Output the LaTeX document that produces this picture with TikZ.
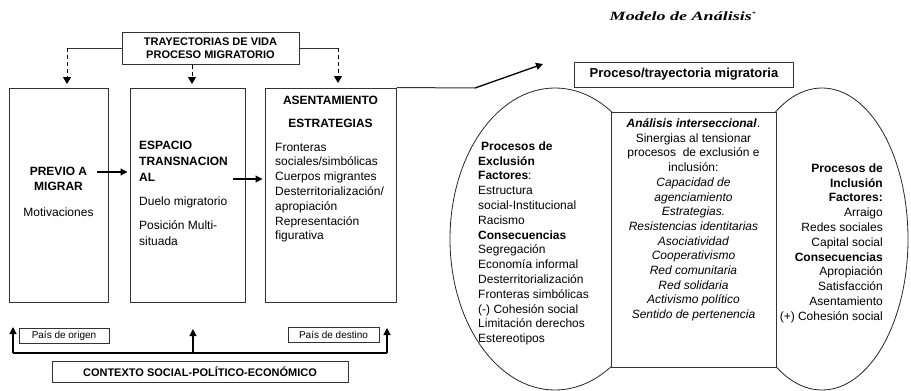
\documentclass[tikz,border=0pt]{standalone}
\usepackage{fontspec}
\setmainfont{Liberation Sans}
\newfontfamily\titlefont{Liberation Serif}
\usetikzlibrary{arrows.meta,shapes.geometric}
\begin{document}
\begin{tikzpicture}[x=1pt,y=-1pt,
  box/.style={draw=black!80, line width=1pt, inner sep=0pt},
  txt/.style={inner sep=0pt, font=\fontsize{12}{14.8}\selectfont},
  arr/.style={-{Triangle[length=7pt,width=7pt]}, line width=1.1pt, black},
  dasharr/.style={-{Triangle[length=7pt,width=8pt]}, line width=1pt, dash pattern=on 4pt off 3pt, black},
  conn/.style={line width=1pt, black!80},
  oval/.style={draw=black!85, ellipse, line width=0.8pt, inner sep=0pt}]
\useasboundingbox (0,0) rectangle (911,391);

% ---------- top box and dashed connectors
\node[box, minimum width=177pt, minimum height=32pt, align=center,
  font=\fontsize{11}{13.5}\selectfont\bfseries] (tv) at (210.5,48)
  {TRAYECTORIAS DE VIDA\\PROCESO MIGRATORIO};
\coordinate (tl) at (67,48);
\coordinate (tla) at (67,84);
\coordinate (tma) at (192,84);
\coordinate (tr) at (338,48);
\coordinate (tra) at (338,83);
\draw[conn] (tv.west) -- (tl);
\draw[dasharr] (tl) -- (tla);
\draw[dasharr] (tv.south -| tma) -- (tma);
\draw[conn] (tv.east) -- (tr);
\draw[dasharr] (tr) -- (tra);

% ---------- three stage boxes
\node[box, minimum width=99pt, minimum height=214pt] (b1) at (58.5,195) {};
\node[box, minimum width=115pt, minimum height=214pt] (b2) at (187.5,195) {};
\node[box, minimum width=131pt, minimum height=214pt] (b3) at (330.5,195) {};

\node[txt, align=center, font=\fontsize{12}{15.5}\selectfont\bfseries] (pm) at (58.5,179) {PREVIO A\\MIGRAR};
\node[txt] (mot) at (58.5,212) {Motivaciones};

\node[txt, anchor=north west, align=left, font=\fontsize{12}{16}\selectfont] (et) at (139,140.7)
  {\textbf{ESPACIO}\\\textbf{TRANSNACION}\\\textbf{AL}\\[8pt]Duelo migratorio\\[8pt]Posición Multi-\\situada};

\node[txt, font=\fontsize{12}{14}\selectfont\bfseries] (as) at (330.5,100) {ASENTAMIENTO};
\node[txt, font=\fontsize{12}{14}\selectfont\bfseries] (es) at (330.5,123) {ESTRATEGIAS};
\node[txt, anchor=north west, align=left] (fr) at (275,142.7)
  {Fronteras\\sociales/simbólicas\\Cuerpos migrantes\\Desterritorialización/\\apropiación\\Representación\\figurativa};

\coordinate (a1s) at (97,172);
\coordinate (a2s) at (233,179);
\draw[arr, shorten >=2pt] (a1s) -- (b2.west |- a1s);
\draw[arr, shorten >=2pt] (a2s) -- (b3.west |- a2s);

% ---------- bottom context
\node[box, minimum width=90pt, minimum height=15pt, font=\fontsize{10}{12}\selectfont] (po) at (64,335.5) {País de origen};
\node[box, minimum width=91pt, minimum height=15pt, font=\fontsize{10}{12}\selectfont] (pd) at (333.5,334.5) {País de destino};
\node[box, minimum width=296pt, minimum height=21pt, font=\fontsize{11}{13}\selectfont\bfseries] (ctx) at (200,371.5) {CONTEXTO SOCIAL-POLÍTICO-ECONÓMICO};
\coordinate (bl) at (13,353);
\coordinate (bm) at (193,353);
\coordinate (br) at (387,353);
\coordinate (blt) at (13,327);
\coordinate (bmt) at (193,329);
\coordinate (brt) at (387,328);
\draw[line width=1.1pt] (bl) -- (br);
\draw[arr] (bl) -- (blt);
\draw[arr] (bm) -- (bmt);
\draw[arr] (br) -- (brt);

% ---------- right side
\node[inner sep=0pt] (title) at (683,16)
  {\scalebox{1.5}[1.05]{\titlefont\fontsize{12}{14}\selectfont\bfseries\itshape Modelo de Análisis\textsuperscript{\tiny *}}};

\coordinate (ak) at (475,88);
\coordinate (at) at (543,64);
\draw[conn] (b3.north east) -- (ak);
\draw[arr, line width=1.3pt] (ak) -- (at);

\node[box, minimum width=219pt, minimum height=25pt, font=\fontsize{13}{15}\selectfont\bfseries] (ptm) at (684,74.5) {Proceso/trayectoria migratoria};

\node[oval, minimum width=210pt, minimum height=302pt] (exc) at (555,239) {};
\node[oval, minimum width=172pt, minimum height=302pt] (inc) at (822,239) {};
\node[box, fill=white, minimum width=165pt, minimum height=255pt] (ai) at (693.5,239.5) {};

\node[txt, anchor=north west, align=left, font=\fontsize{12}{14.8}\selectfont] (ex) at (478,141.5)
  {\hspace{3pt}\textbf{Procesos de}\\\textbf{Exclusión}\\\textbf{Factores}:\\Estructura\\social-Institucional\\Racismo\\\textbf{Consecuencias}\\Segregación\\Economía informal\\Desterritorialización\\Fronteras simbólicas\\(-) Cohesión social\\Limitación derechos\\Estereotipos};

\node[txt, anchor=north, align=center, font=\fontsize{12}{14.7}\selectfont] (an) at (693.5,118.5)
  {\textbf{\textit{Análisis interseccional}}.\\Sinergias al tensionar\\procesos\ \ de exclusión e\\inclusión:\\\textit{Capacidad de}\\\textit{agenciamiento}\\\textit{Estrategias.}\\\textit{Resistencias identitarias}\\\textit{Asociatividad}\\\textit{Cooperativismo}\\\textit{Red comunitaria}\\\textit{Red solidaria}\\\textit{Activismo político}\\\textit{Sentido de pertenencia}};

\node[txt, anchor=north east, align=right, font=\fontsize{12}{14.8}\selectfont] (in) at (883,163.5)
  {\textbf{Procesos de}\\\textbf{Inclusión}\\\textbf{Factores:}\\Arraigo\\Redes sociales\\Capital social\\\textbf{Consecuencias}\\Apropiación\\Satisfacción\\Asentamiento\\(+) Cohesión social};
\end{tikzpicture}
\end{document}
